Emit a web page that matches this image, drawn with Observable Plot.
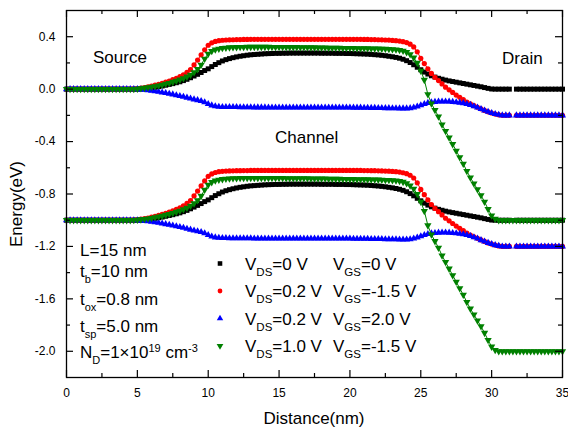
<!DOCTYPE html>
<html>
<head>
<meta charset="utf-8">
<script src="https://cdn.jsdelivr.net/npm/d3@7"></script>
<script src="https://cdn.jsdelivr.net/npm/@observablehq/plot@0.6"></script>
<style>
  html, body { margin: 0; padding: 0; background: white; }
  #chart { width: 568px; height: 429px; }
</style>
</head>
<body>
<div id="chart"></div>
<script>
// ---------- data ----------
const distance = [
  0,0.25,0.5,0.75,1,1.25,1.5,1.75,2,2.25,2.5,2.75,3,3.25,3.5,3.75,4,4.25,4.5,4.75,
  5,5.25,5.5,5.75,6,6.25,6.5,6.75,7,7.25,7.5,7.75,8,8.25,8.5,8.75,9,9.25,9.5,9.75,
  10,10.25,10.5,10.75,11,11.25,11.5,11.75,12,12.25,12.5,12.75,13,13.25,13.5,13.75,14,14.25,14.5,14.75,
  15,15.25,15.5,15.75,16,16.25,16.5,16.75,17,17.25,17.5,17.75,18,18.25,18.5,18.75,19,19.25,19.5,19.75,
  20,20.25,20.5,20.75,21,21.25,21.5,21.75,22,22.25,22.5,22.75,23,23.25,23.5,23.75,24,24.25,24.5,24.75,
  25,25.25,25.5,25.75,26,26.25,26.5,26.75,27,27.25,27.5,27.75,28,28.25,28.5,28.75,29,29.25,29.5,29.75,
  30,30.25,30.5,30.75,31,31.25,31.5,31.75,32,32.25,32.5,32.75,33,33.25,33.5,33.75,34,34.25,34.5,34.75,
  35
];

// VDS=0 V, VGS=0 V
const blackCB = [
  0,0,0,0,0,0,0,0,0,0,0,0,0,0,0,0,0,0,0,0,
  0,0.002,0.004,0.007,0.01,0.014,0.019,0.024,0.03,0.036,0.042,0.049,0.056,0.065,0.075,0.087,0.1,0.113,0.127,0.142,
  0.155,0.172,0.188,0.202,0.215,0.225,0.233,0.24,0.246,0.251,0.255,0.259,0.262,0.264,0.266,0.268,0.27,0.271,0.272,0.273,
  0.273,0.274,0.274,0.275,0.275,0.275,0.275,0.275,0.275,0.275,0.275,0.275,0.274,0.274,0.274,0.274,0.273,0.273,0.273,0.272,
  0.272,0.271,0.27,0.269,0.268,0.267,0.265,0.263,0.261,0.258,0.255,0.251,0.247,0.242,0.236,0.228,0.217,0.203,0.186,0.167,
  0.148,0.13,0.115,0.102,0.092,0.083,0.076,0.069,0.063,0.058,0.053,0.048,0.043,0.038,0.033,0.028,0.023,0.018,0.012,0.006,
  0.001,0,0,0,0,0,null,0,0,0,0,0,0,0,0,0,0,0,0,0,
  0
];
const blackVB = [
  -1,-1,-1,-1,-1,-1,-1,-1,-1,-1,-1,-1,-1,-1,-1,-1,-1,-1,-1,-1,
  -1,-0.998,-0.996,-0.993,-0.99,-0.986,-0.981,-0.976,-0.97,-0.964,-0.958,-0.951,-0.944,-0.935,-0.925,-0.913,-0.9,-0.887,-0.873,-0.858,
  -0.845,-0.828,-0.812,-0.798,-0.785,-0.775,-0.767,-0.76,-0.754,-0.749,-0.745,-0.741,-0.738,-0.736,-0.734,-0.732,-0.73,-0.729,-0.728,-0.727,
  -0.727,-0.726,-0.726,-0.725,-0.725,-0.725,-0.725,-0.725,-0.725,-0.725,-0.725,-0.725,-0.726,-0.726,-0.726,-0.726,-0.727,-0.727,-0.727,-0.728,
  -0.728,-0.729,-0.73,-0.731,-0.732,-0.733,-0.735,-0.737,-0.739,-0.742,-0.745,-0.749,-0.753,-0.758,-0.764,-0.772,-0.783,-0.797,-0.814,-0.833,
  -0.852,-0.87,-0.885,-0.898,-0.908,-0.917,-0.924,-0.931,-0.937,-0.942,-0.947,-0.952,-0.957,-0.962,-0.967,-0.972,-0.977,-0.982,-0.988,-0.994,
  -0.999,-1,-1,-1,-1,-1,null,-1,-1,-1,-1,-1,-1,-1,-1,-1,-1,-1,-1,-1,
  -1
];

// VDS=0.2 V, VGS=-1.5 V
const redCB = [
  0,0,0,0,0,0,0,0,0,0,0,0,0,0,0,0,0,0,0,0.002,
  0.005,0.008,0.012,0.017,0.023,0.03,0.037,0.045,0.053,0.062,0.072,0.083,0.095,0.11,0.128,0.15,0.185,0.222,0.262,0.3,
  0.335,0.353,0.364,0.37,0.373,0.375,0.376,0.377,0.378,0.378,0.379,0.379,0.38,0.38,0.38,0.38,0.38,0.38,0.38,0.38,
  0.38,0.38,0.38,0.38,0.38,0.38,0.38,0.38,0.38,0.38,0.38,0.38,0.38,0.38,0.38,0.38,0.38,0.38,0.38,0.38,
  0.38,0.38,0.38,0.38,0.379,0.379,0.378,0.378,0.377,0.376,0.375,0.374,0.372,0.37,0.367,0.362,0.355,0.343,0.322,0.285,
  0.235,0.195,0.155,0.12,0.09,0.065,0.04,0.015,-0.005,-0.025,-0.045,-0.062,-0.08,-0.098,-0.113,-0.126,-0.138,-0.15,-0.162,-0.173,
  -0.182,-0.19,-0.196,-0.2,-0.2,-0.2,null,-0.2,-0.2,-0.2,-0.2,-0.2,-0.2,-0.2,-0.2,-0.2,-0.2,-0.2,-0.2,-0.2,
  -0.2
];
const redVB = [
  -1,-1,-1,-1,-1,-1,-1,-1,-1,-1,-1,-1,-1,-1,-1,-1,-1,-1,-1,-0.998,
  -0.995,-0.992,-0.988,-0.983,-0.977,-0.97,-0.963,-0.955,-0.947,-0.938,-0.928,-0.917,-0.905,-0.89,-0.872,-0.85,-0.815,-0.778,-0.738,-0.7,
  -0.665,-0.647,-0.636,-0.63,-0.627,-0.625,-0.624,-0.623,-0.622,-0.622,-0.621,-0.621,-0.62,-0.62,-0.62,-0.62,-0.62,-0.62,-0.62,-0.62,
  -0.62,-0.62,-0.62,-0.62,-0.62,-0.62,-0.62,-0.62,-0.62,-0.62,-0.62,-0.62,-0.62,-0.62,-0.62,-0.62,-0.62,-0.62,-0.62,-0.62,
  -0.62,-0.62,-0.62,-0.62,-0.621,-0.621,-0.622,-0.622,-0.623,-0.624,-0.625,-0.626,-0.628,-0.63,-0.633,-0.638,-0.645,-0.657,-0.678,-0.715,
  -0.765,-0.805,-0.845,-0.88,-0.91,-0.935,-0.96,-0.985,-1.005,-1.025,-1.045,-1.062,-1.08,-1.098,-1.113,-1.126,-1.138,-1.15,-1.162,-1.173,
  -1.182,-1.19,-1.196,-1.2,-1.2,-1.2,null,-1.2,-1.2,-1.2,-1.2,-1.2,-1.2,-1.2,-1.2,-1.2,-1.2,-1.2,-1.2,-1.2,
  -1.2
];

// VDS=0.2 V, VGS=2.0 V
const blueCB = [
  0,0,0,0,0,0,0,0,0,0,0,0,0,0,0,0,0,0,0,0,
  0,-0.002,-0.005,-0.008,-0.012,-0.016,-0.02,-0.025,-0.03,-0.035,-0.04,-0.046,-0.052,-0.058,-0.065,-0.072,-0.078,-0.084,-0.09,-0.1,
  -0.113,-0.124,-0.131,-0.134,-0.136,-0.136,-0.137,-0.137,-0.137,-0.138,-0.138,-0.138,-0.138,-0.139,-0.139,-0.139,-0.139,-0.14,-0.14,-0.14,
  -0.14,-0.14,-0.14,-0.14,-0.14,-0.14,-0.14,-0.14,-0.14,-0.14,-0.14,-0.14,-0.14,-0.14,-0.14,-0.14,-0.14,-0.14,-0.14,-0.14,
  -0.14,-0.141,-0.141,-0.141,-0.142,-0.142,-0.143,-0.143,-0.144,-0.144,-0.145,-0.145,-0.146,-0.146,-0.147,-0.147,-0.147,-0.145,-0.14,-0.132,
  -0.123,-0.113,-0.105,-0.1,-0.097,-0.095,-0.094,-0.094,-0.095,-0.097,-0.1,-0.103,-0.107,-0.113,-0.12,-0.13,-0.14,-0.152,-0.163,-0.173,
  -0.182,-0.19,-0.196,-0.2,-0.2,-0.2,null,-0.2,-0.2,-0.2,-0.2,-0.2,-0.2,-0.2,-0.2,-0.2,-0.2,-0.2,-0.2,-0.2,
  -0.2
];
const blueVB = [
  -1,-1,-1,-1,-1,-1,-1,-1,-1,-1,-1,-1,-1,-1,-1,-1,-1,-1,-1,-1,
  -1,-1.002,-1.005,-1.008,-1.012,-1.016,-1.02,-1.025,-1.03,-1.035,-1.04,-1.046,-1.052,-1.058,-1.065,-1.072,-1.078,-1.084,-1.09,-1.1,
  -1.113,-1.124,-1.131,-1.134,-1.136,-1.136,-1.137,-1.137,-1.137,-1.138,-1.138,-1.138,-1.138,-1.139,-1.139,-1.139,-1.139,-1.14,-1.14,-1.14,
  -1.14,-1.14,-1.14,-1.14,-1.14,-1.14,-1.14,-1.14,-1.14,-1.14,-1.14,-1.14,-1.14,-1.14,-1.14,-1.14,-1.14,-1.14,-1.14,-1.14,
  -1.14,-1.141,-1.141,-1.141,-1.142,-1.142,-1.143,-1.143,-1.144,-1.144,-1.145,-1.145,-1.146,-1.146,-1.147,-1.147,-1.147,-1.145,-1.14,-1.132,
  -1.123,-1.113,-1.105,-1.1,-1.097,-1.095,-1.094,-1.094,-1.095,-1.097,-1.1,-1.103,-1.107,-1.113,-1.12,-1.13,-1.14,-1.152,-1.163,-1.173,
  -1.182,-1.19,-1.196,-1.2,-1.2,-1.2,null,-1.2,-1.2,-1.2,-1.2,-1.2,-1.2,-1.2,-1.2,-1.2,-1.2,-1.2,-1.2,-1.2,
  -1.2
];

// VDS=1.0 V, VGS=-1.5 V
const greenCB = [
  0,0,0,0,0,0,0,0,0,0,0,0,0,0,0,0,0,0,0,0.001,
  0.003,0.006,0.009,0.013,0.017,0.022,0.027,0.033,0.04,0.047,0.055,0.063,0.072,0.083,0.095,0.11,0.128,0.152,0.185,0.232,
  0.27,0.29,0.302,0.308,0.313,0.316,0.318,0.319,0.32,0.321,0.321,0.322,0.322,0.322,0.322,0.322,0.322,0.322,0.321,0.321,
  0.321,0.321,0.32,0.32,0.32,0.32,0.319,0.319,0.319,0.318,0.318,0.317,0.317,0.317,0.316,0.316,0.315,0.315,0.314,0.314,
  0.313,0.313,0.312,0.312,0.311,0.311,0.31,0.31,0.309,0.308,0.307,0.306,0.304,0.302,0.298,0.292,0.282,0.265,0.24,0.2,
  0.14,0.07,-0.04,-0.11,-0.16,-0.21,-0.27,-0.32,-0.37,-0.42,-0.47,-0.52,-0.57,-0.625,-0.675,-0.72,-0.765,-0.81,-0.86,-0.915,
  -0.965,-0.99,-1,-1,-1,-1,-1,-1,-1,-1,-1,-1,-1,-1,-1,-1,-1,-1,-1,-1,
  -1
];
const greenVB = [
  -1,-1,-1,-1,-1,-1,-1,-1,-1,-1,-1,-1,-1,-1,-1,-1,-1,-1,-1,-0.999,
  -0.997,-0.994,-0.991,-0.987,-0.983,-0.978,-0.973,-0.967,-0.96,-0.953,-0.945,-0.937,-0.928,-0.917,-0.905,-0.89,-0.872,-0.848,-0.815,-0.768,
  -0.73,-0.71,-0.698,-0.692,-0.687,-0.684,-0.682,-0.681,-0.68,-0.679,-0.679,-0.678,-0.678,-0.678,-0.678,-0.678,-0.678,-0.678,-0.679,-0.679,
  -0.679,-0.679,-0.68,-0.68,-0.68,-0.68,-0.681,-0.681,-0.681,-0.682,-0.682,-0.683,-0.683,-0.683,-0.684,-0.684,-0.685,-0.685,-0.686,-0.686,
  -0.687,-0.687,-0.688,-0.688,-0.689,-0.689,-0.69,-0.69,-0.691,-0.692,-0.693,-0.694,-0.696,-0.698,-0.702,-0.708,-0.718,-0.735,-0.76,-0.8,
  -0.86,-0.93,-1.04,-1.11,-1.16,-1.21,-1.27,-1.32,-1.37,-1.42,-1.47,-1.52,-1.57,-1.625,-1.675,-1.72,-1.765,-1.81,-1.86,-1.915,
  -1.965,-1.99,-2,-2,-2,-2,-2,-2,-2,-2,-2,-2,-2,-2,-2,-2,-2,-2,-2,-2,
  -2
];

const xMajorTicks = [0, 5, 10, 15, 20, 25, 30, 35];
const xMinorTicks = [2.5, 7.5, 12.5, 17.5, 22.5, 27.5, 32.5];
const yMajorTicks = [0.4, 0.0, -0.4, -0.8, -1.2, -1.6, -2.0];
const yMinorTicks = [0.2, -0.2, -0.6, -1.0, -1.4, -1.8];

const legendVDS = ["0", "0.2", "0.2", "1.0"];
const legendVGS = ["0", "-1.5", "2.0", "-1.5"];
const seriesColors = ["#000000", "#ff0000", "#0000ff", "#008000"];

// ---------- layout ----------
const W = 568, H = 429;
const mL = 66, mR = 6, mT = 10, mB = 52;
const innerW = W - mL - mR, innerH = H - mT - mB;
const FONT = "'Liberation Sans', Arial, Helvetica, sans-serif";

// down-pointing triangle symbol
const triangleDown = {
  draw(context, size) {
    const y = -Math.sqrt(size / (Math.sqrt(3) * 3));
    context.moveTo(0, -y * 2);
    context.lineTo(-Math.sqrt(3) * y, y);
    context.lineTo(Math.sqrt(3) * y, y);
    context.closePath();
  }
};
const seriesSymbols = ["square", "circle", "triangle", triangleDown];
const seriesR = [2.8, 2.6, 2.6, 2.7];

const series = [
  [blackCB, blackVB],
  [redCB, redVB],
  [blueCB, blueVB],
  [greenCB, greenVB]
];

const dataMarks = [];
series.forEach((bands, s) => {
  bands.forEach(vals => {
    const rows = distance.map((x, i) => ({x, y: vals[i]}));
    dataMarks.push(Plot.line(rows, {x: "x", y: "y", stroke: seriesColors[s], strokeWidth: 1}));
    dataMarks.push(Plot.dot(rows, {x: "x", y: "y", fill: seriesColors[s], stroke: "none", r: seriesR[s], symbol: seriesSymbols[s]}));
  });
});

const plot = Plot.plot({
  width: W, height: H,
  marginLeft: mL, marginRight: mR, marginTop: mT, marginBottom: mB,
  x: {domain: [0, 35], label: null},
  y: {domain: [-2.2, 0.6], label: null},
  style: {fontFamily: FONT, fontSize: "12px", color: "black", background: "white"},
  marks: [
    ...dataMarks,
    // inward ticks on all four sides
    Plot.tickX(xMajorTicks, {x: d => d, insetTop: innerH - 7, stroke: "black", strokeWidth: 1.2}),
    Plot.tickX(xMajorTicks, {x: d => d, insetBottom: innerH - 7, stroke: "black", strokeWidth: 1.2}),
    Plot.tickX(xMinorTicks, {x: d => d, insetTop: innerH - 4, stroke: "black", strokeWidth: 1.2}),
    Plot.tickX(xMinorTicks, {x: d => d, insetBottom: innerH - 4, stroke: "black", strokeWidth: 1.2}),
    Plot.tickY(yMajorTicks, {y: d => d, insetRight: innerW - 7, stroke: "black", strokeWidth: 1.2}),
    Plot.tickY(yMajorTicks, {y: d => d, insetLeft: innerW - 7, stroke: "black", strokeWidth: 1.2}),
    Plot.tickY(yMinorTicks, {y: d => d, insetRight: innerW - 4, stroke: "black", strokeWidth: 1.2}),
    Plot.tickY(yMinorTicks, {y: d => d, insetLeft: innerW - 4, stroke: "black", strokeWidth: 1.2}),
    Plot.axisX(xMajorTicks, {tickSize: 0, tickPadding: 11, fontSize: 12, tickFormat: d => String(d), label: null}),
    Plot.axisY(yMajorTicks, {tickSize: 0, tickPadding: 11, fontSize: 12, tickFormat: d => d.toFixed(1), label: null}),
    Plot.frame({stroke: "black", strokeWidth: 1.3})
  ]
});

document.getElementById("chart").appendChild(plot);

// ---------- annotations (rich text with sub/superscripts) ----------
const svg = d3.select(plot);
const ann = svg.append("g").attr("font-family", FONT).attr("fill", "black").attr("text-anchor", "start");

function richText(x, y, parts, size, subSize = 11) {
  const t = ann.append("text").attr("x", x).attr("y", y).attr("font-size", size).attr("text-anchor", "start");
  let shift = 0;
  for (const p of parts) {
    const [str, kind] = typeof p === "string" ? [p, null] : p;
    const target = kind === "sub" ? 6 : kind === "sup" ? -6 : 0;
    t.append("tspan").attr("dy", target - shift).attr("font-size", kind ? subSize : size).text(str);
    shift = target;
  }
  return t;
}

// axis titles
ann.append("text").attr("x", mL + innerW / 2).attr("y", 424).attr("text-anchor", "middle")
  .attr("font-size", 17).text("Distance(nm)");
ann.append("text").attr("transform", "translate(22,204) rotate(-90)").attr("text-anchor", "middle")
  .attr("font-size", 17).text("Energy(eV)");

// region labels
richText(93, 63, ["Source"], 17);
richText(502, 64, ["Drain"], 17);
richText(275, 143, ["Channel"], 17);

// device parameters
richText(80, 256, ["L=15 nm"], 17);
richText(80, 277, ["t", ["b", "sub"], "=10 nm"], 17);
richText(80, 305, ["t", ["ox", "sub"], "=0.8 nm"], 17);
richText(80, 331.5, ["t", ["sp", "sub"], "=5.0 nm"], 17);
richText(80, 358, ["N", ["D", "sub"], "=1\u00d710", ["19", "sup"], " cm", ["-3", "sup"]], 17);

// legend
const legendBaselines = [269.5, 297, 324.5, 352];
legendVDS.forEach((v, i) => {
  const yb = legendBaselines[i];
  const sym = seriesSymbols[i];
  const symType = typeof sym === "string"
    ? {square: d3.symbolSquare, circle: d3.symbolCircle, triangle: d3.symbolTriangle}[sym]
    : sym;
  ann.append("path")
    .attr("d", d3.symbol(symType, Math.PI * seriesR[i] * seriesR[i] * 0.85)())
    .attr("transform", `translate(220,${yb - 6})`)
    .attr("fill", seriesColors[i]);
  richText(245, yb, ["V", ["DS", "sub"], `=${v} V`], 17, 11.5);
  richText(333, yb, ["V", ["GS", "sub"], `=${legendVGS[i]} V`], 17, 11.5);
});
</script>
</body>
</html>
